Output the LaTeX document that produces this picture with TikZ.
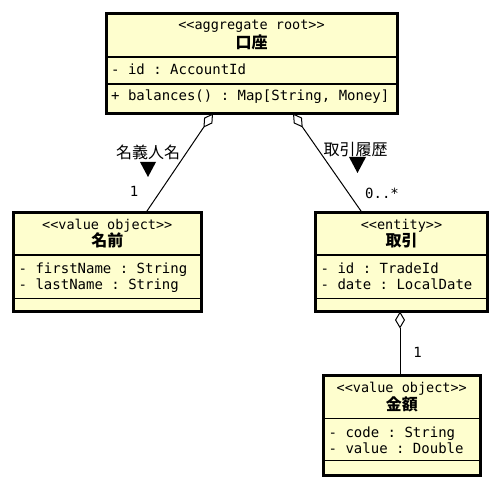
\documentclass[tikz,border=0pt]{standalone}
\usepackage{fontspec}
\setmonofont{DejaVu Sans Mono}
\newfontfamily\jpfont{Noto Sans CJK JP}
\usetikzlibrary{arrows.meta}
\definecolor{classbg}{HTML}{FEFECE}

\begin{document}
\begin{tikzpicture}[x=1pt,y=1pt]
\tikzstyle{every node}+=[inner sep=0pt]
\tikzstyle{classbox}=[draw=black, line width=3pt, fill=classbg, anchor=north west, outer sep=0pt]
\tikzstyle{divider}=[black, line width=1.5pt]
\tikzstyle{stereo}=[anchor=base, font=\ttfamily\fontsize{13.5}{16}\selectfont]
\tikzstyle{classname}=[anchor=base, font=\jpfont\bfseries\fontsize{16}{18}\selectfont]
\tikzstyle{member}=[anchor=base west, font=\ttfamily\fontsize{14}{16}\selectfont]
\tikzstyle{role}=[anchor=base, font=\jpfont\fontsize{16}{18}\selectfont]
\tikzstyle{mult}=[anchor=base, font=\ttfamily\fontsize{14}{16}\selectfont]
\tikzstyle{aggr}=[black, line width=1pt, {Diamond[length=17pt,width=10pt,fill=white]}-]
\useasboundingbox (0,0) rectangle (500,-489);
\node[classbox, minimum width=291pt, minimum height=100pt] (root) at (106,-13.5) {};
\draw[divider] ([yshift=-43.5pt]root.north west) -- ([yshift=-43.5pt]root.north east);
\draw[divider] ([yshift=-70.5pt]root.north west) -- ([yshift=-70.5pt]root.north east);
\node[stereo] (root-st) at ([yshift=-16.5pt]root.north) {<<aggregate root>>};
\node[classname] (root-nm) at ([yshift=-35pt]root.north) {口座};
\node[member] (root-a1) at ([xshift=5pt,yshift=-61.5pt]root.north west) {- id : AccountId};
\node[member] (root-o1) at ([xshift=5pt,yshift=-87.5pt]root.north west) {+ balances() : Map[String, Money]};
\node[classbox, minimum width=187.5pt, minimum height=99pt] (name) at (13.5,-212.5) {};
\draw[divider] ([yshift=-42.5pt]name.north west) -- ([yshift=-42.5pt]name.north east);
\draw[divider] ([yshift=-86pt]name.north west) -- ([yshift=-86pt]name.north east);
\node[stereo] (name-st) at ([yshift=-17pt]name.north) {<<value object>>};
\node[classname] (name-nm) at ([yshift=-34pt]name.north) {名前};
\node[member] (name-a1) at ([xshift=5pt,yshift=-60.5pt]name.north west) {- firstName : String};
\node[member] (name-a2) at ([xshift=5pt,yshift=-77pt]name.north west) {- lastName : String};
\node[classbox, minimum width=172pt, minimum height=99pt] (torihiki) at (315.5,-212.5) {};
\draw[divider] ([yshift=-42.5pt]torihiki.north west) -- ([yshift=-42.5pt]torihiki.north east);
\draw[divider] ([yshift=-86pt]torihiki.north west) -- ([yshift=-86pt]torihiki.north east);
\node[stereo] (torihiki-st) at ([yshift=-17pt]torihiki.north) {<<entity>>};
\node[classname] (torihiki-nm) at ([yshift=-34pt]torihiki.north) {取引};
\node[member] (torihiki-a1) at ([xshift=5pt,yshift=-60.5pt]torihiki.north west) {- id : TradeId};
\node[member] (torihiki-a2) at ([xshift=5pt,yshift=-77pt]torihiki.north west) {- date : LocalDate};
\node[classbox, minimum width=156.5pt, minimum height=100pt] (kingaku) at (323.5,-375.7) {};
\draw[divider] ([yshift=-42.6pt]kingaku.north west) -- ([yshift=-42.6pt]kingaku.north east);
\draw[divider] ([yshift=-85pt]kingaku.north west) -- ([yshift=-85pt]kingaku.north east);
\node[stereo] (kingaku-st) at ([yshift=-16.5pt]kingaku.north) {<<value object>>};
\node[classname] (kingaku-nm) at ([yshift=-35pt]kingaku.north) {金額};
\node[member] (kingaku-a1) at ([xshift=5pt,yshift=-61.3pt]kingaku.north west) {- code : String};
\node[member] (kingaku-a2) at ([xshift=5pt,yshift=-77.3pt]kingaku.north west) {- value : Double};
\draw[aggr] ([xshift=107pt]root.south west) -- ([xshift=132.5pt]name.north west);
\draw[aggr] ([xshift=187pt]root.south west) -- ([xshift=46.5pt]torihiki.north west);
\draw[aggr] ([xshift=84.5pt]torihiki.south west) -- ([xshift=76.5pt]kingaku.north west);
\node[role] (role-meigi) at (148,-159) {名義人名};
\fill[black] (140,-162) -- (156,-162) -- (148,-177) -- cycle;
\node[role] (role-rireki) at (355.5,-155.5) {取引履歴};
\fill[black] (349,-157) -- (366,-157) -- (357.5,-173) -- cycle;
\node[mult] (mult-meigi) at (134,-196) {1};
\node[mult] (mult-rireki) at (382,-198) {0..*};
\node[mult] (mult-kingaku) at (417.5,-357) {1};
\end{tikzpicture}
\end{document}
